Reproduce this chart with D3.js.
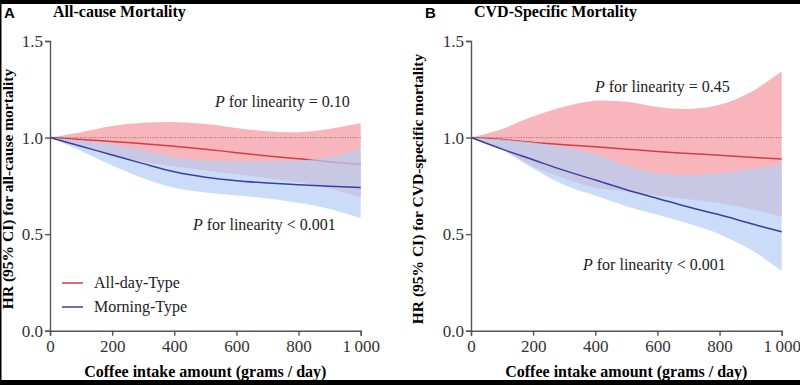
<!DOCTYPE html>
<html lang="en">
<head>
    <meta charset="UTF-8">
    <title>Coffee intake and mortality</title>
    <script src="https://d3js.org/d3.v7.min.js"></script>
    <style>
        body{
            margin: 0;
            background-color: black;
        }
        #canvas{
            display: block;
        }
        .axis path, .axis line{
            stroke: #555;
            stroke-width: 1.4px;
        }
    </style>
</head>
<body>
    <svg id="canvas" width="800" height="385"></svg>
    <script>
        // coffee intake, grams / day
        let intake = [0, 100, 200, 300, 400, 500, 600, 700, 800, 900, 1000];

        // panel A - all-cause mortality
        let allDayA      = [1.0, 0.99, 0.98, 0.968, 0.955, 0.94, 0.922, 0.905, 0.89, 0.875, 0.86];
        let allDayA_up   = [1.0, 1.028, 1.06, 1.077, 1.08, 1.07, 1.05, 1.033, 1.028, 1.045, 1.075];
        let allDayA_lo   = [1.0, 0.955, 0.91, 0.875, 0.85, 0.83, 0.81, 0.79, 0.77, 0.735, 0.69];
        let morningA     = [1.0, 0.955, 0.91, 0.865, 0.823, 0.795, 0.777, 0.765, 0.756, 0.748, 0.741];
        let morningA_up  = [1.0, 0.985, 0.965, 0.935, 0.9, 0.882, 0.878, 0.878, 0.882, 0.9, 0.942];
        let morningA_lo  = [1.0, 0.93, 0.855, 0.79, 0.74, 0.715, 0.7, 0.685, 0.662, 0.63, 0.583];

        // panel B - CVD-specific mortality
        let allDayB      = [1.0, 0.99, 0.975, 0.963, 0.952, 0.94, 0.928, 0.918, 0.908, 0.898, 0.889];
        let allDayB_up   = [1.0, 1.045, 1.11, 1.16, 1.19, 1.185, 1.158, 1.148, 1.17, 1.235, 1.343];
        let allDayB_lo   = [1.0, 0.94, 0.85, 0.79, 0.74, 0.72, 0.7, 0.68, 0.66, 0.63, 0.59];
        let morningB     = [1.0, 0.94, 0.885, 0.83, 0.78, 0.73, 0.685, 0.64, 0.6, 0.555, 0.512];
        let morningB_up  = [1.0, 0.99, 0.975, 0.95, 0.915, 0.855, 0.815, 0.805, 0.815, 0.835, 0.86];
        let morningB_lo  = [1.0, 0.935, 0.84, 0.755, 0.7, 0.645, 0.6, 0.555, 0.5, 0.42, 0.31];

        let yTicks = [0, 0.5, 1.0, 1.5];
        let xTicks = [0, 200, 400, 600, 800, 1000];

        let serif = '"Liberation Serif", "Times New Roman", serif';
        let svg = d3.select('#canvas');

        // black frame from the original scan, white page inside
        svg.append('rect')
            .attr('x', 1.5).attr('y', 4)
            .attr('width', 798.5).attr('height', 376)
            .attr('fill', 'white');

        let spaceFmt = d3.formatLocale({decimal: '.', thousands: '\u2009', grouping: [3], currency: ['', '']}).format(',');

        let panels = [
            {
                letter: 'A', title: 'All-cause Mortality', left: 50, right: 360.7,
                ylabel: 'HR (95% CI) for all-cause mortality', ylabelX: 13,
                red: allDayA, redUp: allDayA_up, redLo: allDayA_lo,
                blue: morningA, blueUp: morningA_up, blueLo: morningA_lo,
                pTop: {x: 215, y: 107, t: ' for linearity = 0.10'},
                pBot: {x: 193, y: 230, t: ' for linearity < 0.001'},
                legend: true
            },
            {
                letter: 'B', title: 'CVD-Specific Mortality', left: 471, right: 781.7,
                ylabel: 'HR (95% CI) for CVD-specific mortality', ylabelX: 423,
                red: allDayB, redUp: allDayB_up, redLo: allDayB_lo,
                blue: morningB, blueUp: morningB_up, blueLo: morningB_lo,
                pTop: {x: 595, y: 92, t: ' for linearity = 0.45'},
                pBot: {x: 583, y: 270, t: ' for linearity < 0.001'},
                legend: false
            }
        ];

        let yScale = d3.scaleLinear().domain([0, 1.5]).range([330.7, 41]);

        panels.forEach(function(p){
            let xScale = d3.scaleLinear().domain([0, 1000]).range([p.left, p.right]);
            let g = svg.append('g');
            let curve = d3.curveCatmullRom.alpha(0.5);

            let area = function(lo, up){
                return d3.area()
                    .x(function(d, i){ return xScale(intake[i]); })
                    .y0(function(d, i){ return yScale(lo[i]); })
                    .y1(function(d, i){ return yScale(up[i]); })
                    .curve(curve)(intake);
            };
            let line = function(vals){
                return d3.line()
                    .x(function(d, i){ return xScale(intake[i]); })
                    .y(function(d, i){ return yScale(vals[i]); })
                    .curve(curve)(intake);
            };

            // bands and curves - blue band sits over the red one
            g.append('path').attr('d', area(p.redLo, p.redUp)).attr('fill', '#f8b6bc');
            g.append('path').attr('d', line(p.red)).attr('fill', 'none')
                .attr('stroke', '#d43c46').attr('stroke-width', 1.5);
            g.append('path').attr('d', area(p.blueLo, p.blueUp))
                .attr('fill', '#b6cff5').attr('fill-opacity', 0.72);

            // reference line at HR = 1
            g.append('line')
                .attr('x1', xScale(0)).attr('x2', xScale(1000))
                .attr('y1', yScale(1)).attr('y2', yScale(1))
                .attr('stroke', '#8a7068').attr('stroke-width', 1)
                .attr('stroke-dasharray', '1,1.5');

            g.append('path').attr('d', line(p.blue)).attr('fill', 'none')
                .attr('stroke', '#3b3f9e').attr('stroke-width', 1.5);

            // axes
            let xAxis = g.append('g').attr('class', 'axis')
                .attr('transform', 'translate(0,' + yScale(0) + ')')
                .call(d3.axisBottom(xScale).tickValues(xTicks).tickFormat(spaceFmt).tickSizeOuter(0).tickSize(5).tickPadding(4));
            let yAxis = g.append('g').attr('class', 'axis')
                .attr('transform', 'translate(' + p.left + ',0)')
                .call(d3.axisLeft(yScale).tickValues(yTicks).tickFormat(d3.format('.1f')).tickSizeOuter(0).tickSize(5).tickPadding(2));
            [xAxis, yAxis].forEach(function(a){
                a.selectAll('text')
                    .style('font-family', serif)
                    .style('font-size', '17px')
                    .style('fill', '#333');
            });

            // titles
            svg.append('text')
                .attr('x', p.left - 46).attr('y', 18)
                .style('font-family', '"Liberation Sans", Arial, sans-serif')
                .style('font-weight', 'bold').style('font-size', '15px')
                .text(p.letter);
            svg.append('text')
                .attr('x', p.left + 3).attr('y', 17)
                .style('font-family', serif).style('font-weight', 'bold')
                .style('font-size', '16px')
                .text(p.title);
            svg.append('text')
                .attr('x', (p.left + p.right) / 2).attr('y', 377)
                .attr('text-anchor', 'middle')
                .style('font-family', serif).style('font-weight', 'bold')
                .style('font-size', '16px')
                .text('Coffee intake amount (grams / day)');
            svg.append('text')
                .attr('transform', 'translate(' + p.ylabelX + ',189) rotate(-90)')
                .attr('text-anchor', 'middle')
                .style('font-family', serif).style('font-weight', 'bold')
                .style('font-size', '15.5px')
                .text(p.ylabel);

            // p for linearity notes
            [p.pTop, p.pBot].forEach(function(n){
                let t = svg.append('text')
                    .attr('x', n.x).attr('y', n.y)
                    .style('font-family', serif).style('font-size', '16px')
                    .style('fill', '#222');
                t.append('tspan').style('font-style', 'italic').text('P');
                t.append('tspan').text(n.t);
            });

            // legend
            if(p.legend){
                let items = [['All-day-Type', '#d43c46'], ['Morning-Type', '#3b3f9e']];
                items.forEach(function(it, i){
                    let yy = 283 + i * 24;
                    svg.append('line')
                        .attr('x1', 62).attr('x2', 83).attr('y1', yy).attr('y2', yy)
                        .attr('stroke', it[1]).attr('stroke-width', 1.5);
                    svg.append('text')
                        .attr('x', 94).attr('y', yy + 5)
                        .style('font-family', serif).style('font-size', '16px')
                        .style('fill', '#222')
                        .text(it[0]);
                });
            }
        });
    </script>
</body>
</html>
